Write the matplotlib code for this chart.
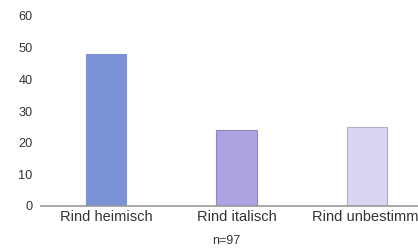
import matplotlib.pyplot as plt

categories = ["Rind heimisch", "Rind italisch", "Rind unbestimmt"]
values = [48, 24, 25]
colors = ["#7b93d6", "#ada3e3", "#d9d6f3"]
edges = ["#7b93d6", "#8e86c0", "#b0adc8"]
yticks = [0, 10, 20, 30, 40, 50, 60]
note = "n=97"

plt.rcParams["font.family"] = ["Liberation Sans", "DejaVu Sans"]

fig = plt.figure(figsize=(4.18, 2.5), dpi=100)
ax = fig.add_axes([41 / 418, 44 / 250, 391 / 418, 190 / 250])

x = range(len(categories))
ax.bar(x, values, width=0.31, color=colors, edgecolor=edges, linewidth=0.8)

ax.set_xlim(-0.5, 2.5)
ax.set_ylim(0, 60)
ax.set_yticks(yticks)
ax.set_xticks(list(x))
ax.set_xticklabels(categories, fontsize=10.5, color="#333333")
ax.tick_params(axis="y", length=0, labelsize=9.2, labelcolor="#333333", pad=6)
ax.tick_params(axis="x", length=0, pad=3)

for side in ["top", "right", "left"]:
    ax.spines[side].set_visible(False)
ax.spines["bottom"].set_color("#999999")
ax.spines["bottom"].set_linewidth(1.2)

fig.text(226 / 418, 1 - 241 / 250, note, ha="center", va="center",
         fontsize=9, color="#333333")

fig.savefig("out.png", dpi=100)
